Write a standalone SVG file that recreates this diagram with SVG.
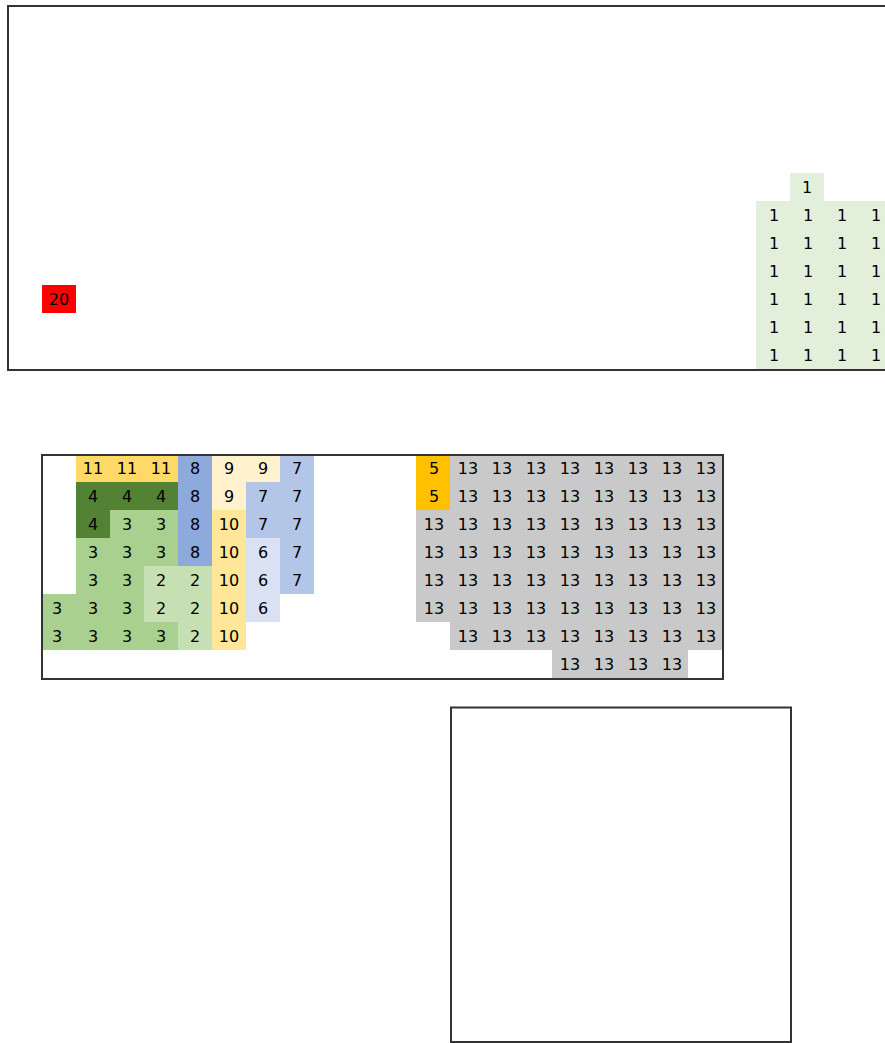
<svg xmlns="http://www.w3.org/2000/svg" width="885" height="1043" viewBox="0 0 885 1043">
<style>
.box{fill:none;stroke:#333;stroke-width:2}
text{font-family:"DejaVu Sans",sans-serif;font-size:16px;fill:#000;text-anchor:middle}
.c1{fill:#E2EFDA}.c20{fill:#FF0000}.c11{fill:#FFD966}.c8{fill:#8EA9DB}.c9{fill:#FFF2CC}.c7{fill:#B4C6E7}
.c4{fill:#548235}.c3{fill:#A9D08E}.c2{fill:#C6E0B4}.c10{fill:#FFE699}.c6{fill:#D9E1F2}.c5{fill:#FFC000}.c13{fill:#C9C9C9}
</style>
<rect width="885" height="1043" fill="#fff"/>
<g id="top-panel">
<g id="region-1">
<rect class="c1" x="790" y="173" width="34" height="28"/>
<rect class="c1" x="756" y="201" width="140" height="169"/>
<text x="807" y="193">1</text>
<g>
<text x="774" y="221">1</text><text x="808" y="221">1</text><text x="842" y="221">1</text><text x="876" y="221">1</text>
<text x="774" y="249">1</text><text x="808" y="249">1</text><text x="842" y="249">1</text><text x="876" y="249">1</text>
<text x="774" y="277">1</text><text x="808" y="277">1</text><text x="842" y="277">1</text><text x="876" y="277">1</text>
<text x="774" y="305">1</text><text x="808" y="305">1</text><text x="842" y="305">1</text><text x="876" y="305">1</text>
<text x="774" y="333">1</text><text x="808" y="333">1</text><text x="842" y="333">1</text><text x="876" y="333">1</text>
<text x="774" y="361">1</text><text x="808" y="361">1</text><text x="842" y="361">1</text><text x="876" y="361">1</text>
</g>
</g>
<g id="region-20">
<rect class="c20" x="42" y="285" width="34" height="28"/>
<text x="59" y="305">20</text>
</g>
<rect class="box" x="8" y="6" width="892" height="364"/>
</g>
<g id="middle-panel">
<g id="region-11">
<rect class="c11" x="76" y="454" width="102" height="28"/>
<text x="93" y="474">11</text><text x="127" y="474">11</text><text x="161" y="474">11</text>
</g>
<g id="region-8">
<rect class="c8" x="178" y="454" width="34" height="112"/>
<text x="195" y="474">8</text><text x="195" y="502">8</text><text x="195" y="530">8</text><text x="195" y="558">8</text>
</g>
<g id="region-9">
<rect class="c9" x="212" y="454" width="68" height="28"/>
<rect class="c9" x="212" y="482" width="34" height="28"/>
<text x="229" y="474">9</text><text x="263" y="474">9</text><text x="229" y="502">9</text>
</g>
<g id="region-7">
<rect class="c7" x="280" y="454" width="34" height="28"/>
<rect class="c7" x="246" y="482" width="68" height="56"/>
<rect class="c7" x="280" y="538" width="34" height="56"/>
<text x="297" y="474">7</text><text x="263" y="502">7</text><text x="297" y="502">7</text>
<text x="263" y="530">7</text><text x="297" y="530">7</text><text x="297" y="558">7</text><text x="297" y="586">7</text>
</g>
<g id="region-4">
<rect class="c4" x="76" y="482" width="102" height="28"/>
<rect class="c4" x="76" y="510" width="34" height="28"/>
<text x="93" y="502">4</text><text x="127" y="502">4</text><text x="161" y="502">4</text><text x="93" y="530">4</text>
</g>
<g id="region-3">
<rect class="c3" x="110" y="510" width="68" height="28"/>
<rect class="c3" x="76" y="538" width="102" height="28"/>
<rect class="c3" x="76" y="566" width="68" height="28"/>
<rect class="c3" x="42" y="594" width="102" height="28"/>
<rect class="c3" x="42" y="622" width="136" height="28"/>
<text x="127" y="530">3</text><text x="161" y="530">3</text>
<text x="93" y="558">3</text><text x="127" y="558">3</text><text x="161" y="558">3</text>
<text x="93" y="586">3</text><text x="127" y="586">3</text>
<text x="57" y="614">3</text><text x="93" y="614">3</text><text x="127" y="614">3</text>
<text x="57" y="642">3</text><text x="93" y="642">3</text><text x="127" y="642">3</text><text x="161" y="642">3</text>
</g>
<g id="region-2">
<rect class="c2" x="144" y="566" width="68" height="56"/>
<rect class="c2" x="178" y="622" width="34" height="28"/>
<text x="161" y="586">2</text><text x="195" y="586">2</text>
<text x="161" y="614">2</text><text x="195" y="614">2</text>
<text x="195" y="642">2</text>
</g>
<g id="region-10">
<rect class="c10" x="212" y="510" width="34" height="140"/>
<text x="229" y="530">10</text><text x="229" y="558">10</text><text x="229" y="586">10</text><text x="229" y="614">10</text><text x="229" y="642">10</text>
</g>
<g id="region-6">
<rect class="c6" x="246" y="538" width="34" height="84"/>
<text x="263" y="558">6</text><text x="263" y="586">6</text><text x="263" y="614">6</text>
</g>
<g id="region-5">
<rect class="c5" x="416" y="454" width="34" height="56"/>
<text x="434" y="474">5</text><text x="434" y="502">5</text>
</g>
<g id="region-13">
<rect class="c13" x="450" y="454" width="272" height="56"/>
<rect class="c13" x="416" y="510" width="306" height="112"/>
<rect class="c13" x="450" y="622" width="272" height="28"/>
<rect class="c13" x="552" y="650" width="136" height="28"/>
<text x="468" y="474">13</text><text x="502" y="474">13</text><text x="536" y="474">13</text><text x="570" y="474">13</text><text x="604" y="474">13</text><text x="638" y="474">13</text><text x="672" y="474">13</text><text x="706" y="474">13</text>
<text x="468" y="502">13</text><text x="502" y="502">13</text><text x="536" y="502">13</text><text x="570" y="502">13</text><text x="604" y="502">13</text><text x="638" y="502">13</text><text x="672" y="502">13</text><text x="706" y="502">13</text>
<text x="434" y="530">13</text><text x="468" y="530">13</text><text x="502" y="530">13</text><text x="536" y="530">13</text><text x="570" y="530">13</text><text x="604" y="530">13</text><text x="638" y="530">13</text><text x="672" y="530">13</text><text x="706" y="530">13</text>
<text x="434" y="558">13</text><text x="468" y="558">13</text><text x="502" y="558">13</text><text x="536" y="558">13</text><text x="570" y="558">13</text><text x="604" y="558">13</text><text x="638" y="558">13</text><text x="672" y="558">13</text><text x="706" y="558">13</text>
<text x="434" y="586">13</text><text x="468" y="586">13</text><text x="502" y="586">13</text><text x="536" y="586">13</text><text x="570" y="586">13</text><text x="604" y="586">13</text><text x="638" y="586">13</text><text x="672" y="586">13</text><text x="706" y="586">13</text>
<text x="434" y="614">13</text><text x="468" y="614">13</text><text x="502" y="614">13</text><text x="536" y="614">13</text><text x="570" y="614">13</text><text x="604" y="614">13</text><text x="638" y="614">13</text><text x="672" y="614">13</text><text x="706" y="614">13</text>
<text x="468" y="642">13</text><text x="502" y="642">13</text><text x="536" y="642">13</text><text x="570" y="642">13</text><text x="604" y="642">13</text><text x="638" y="642">13</text><text x="672" y="642">13</text><text x="706" y="642">13</text>
<text x="570" y="670">13</text><text x="604" y="670">13</text><text x="638" y="670">13</text><text x="672" y="670">13</text>
</g>
<rect class="box" x="42" y="455" width="681" height="224"/>
</g>
<g id="bottom-panel">
<rect class="box" x="451" y="707.5" width="340" height="334.5"/>
</g>
<g id="connectors"/>
</svg>
